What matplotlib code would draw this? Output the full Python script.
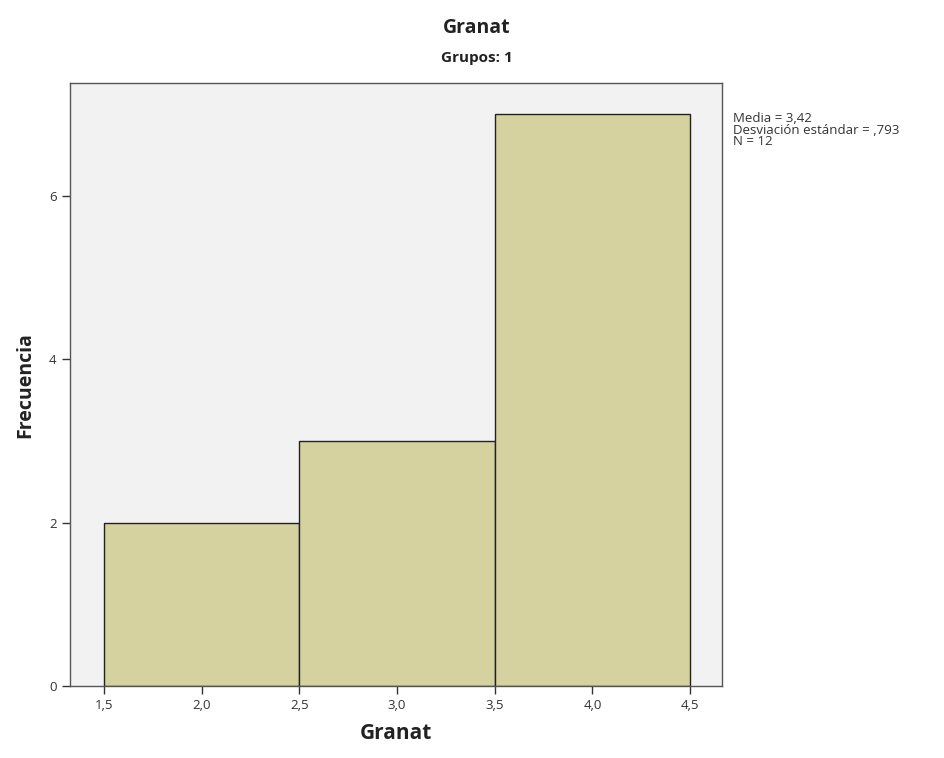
import matplotlib
matplotlib.use("Agg")
import matplotlib.pyplot as plt
import numpy as np

plt.rcParams['font.family'] = ['Open Sans', 'DejaVu Sans']

bin_edges = [1.5, 2.5, 3.5, 4.5]
counts = [2, 3, 7]
x_ticks = [1.5, 2.0, 2.5, 3.0, 3.5, 4.0, 4.5]
x_tick_labels = ["1,5", "2,0", "2,5", "3,0", "3,5", "4,0", "4,5"]
y_ticks = [0, 2, 4, 6]
stats_text = "Media = 3,42\nDesviación estándar = ,793\nN = 12"

fig = plt.figure(figsize=(9.44, 7.58), dpi=100)
ax = fig.add_axes([0.074, 0.095, 0.691, 0.795])
ax.set_facecolor('#f2f2f2')

widths = np.diff(bin_edges)
ax.bar(bin_edges[:-1], counts, width=widths, align='edge',
       color='#d6d2a0', edgecolor='#222222', linewidth=1.0, zorder=2)

ax.set_xlim(1.326, 4.664)
ax.set_ylim(0, 7.38)
ax.set_xticks(x_ticks)
ax.set_xticklabels(x_tick_labels, fontsize=9.5, color='#333333')
ax.set_yticks(y_ticks)
ax.set_yticklabels([str(v) for v in y_ticks], fontsize=9.5, color='#333333')
ax.tick_params(direction='out', length=6, width=1, color='#333333')

for s in ax.spines.values():
    s.set_color('#555555')
    s.set_linewidth(1.0)

ax.set_xlabel("Granat", fontsize=15, fontweight='bold', color='#222222', labelpad=8)
ax.set_ylabel("Frecuencia", fontsize=14, fontweight='bold', color='#222222', labelpad=10)
fig.text(0.505, 0.923, "Grupos: 1", ha='center', va='center', fontsize=11,
         fontweight='bold', color='#222222')
fig.text(0.505, 0.963, "Granat", ha='center', va='center', fontsize=14,
         fontweight='bold', color='#222222')

fig.text(0.776, 0.852, stats_text, ha='left', va='top', fontsize=9.5,
         color='#333333', linespacing=0.85)

fig.savefig("out.png", dpi=100, facecolor='white')
